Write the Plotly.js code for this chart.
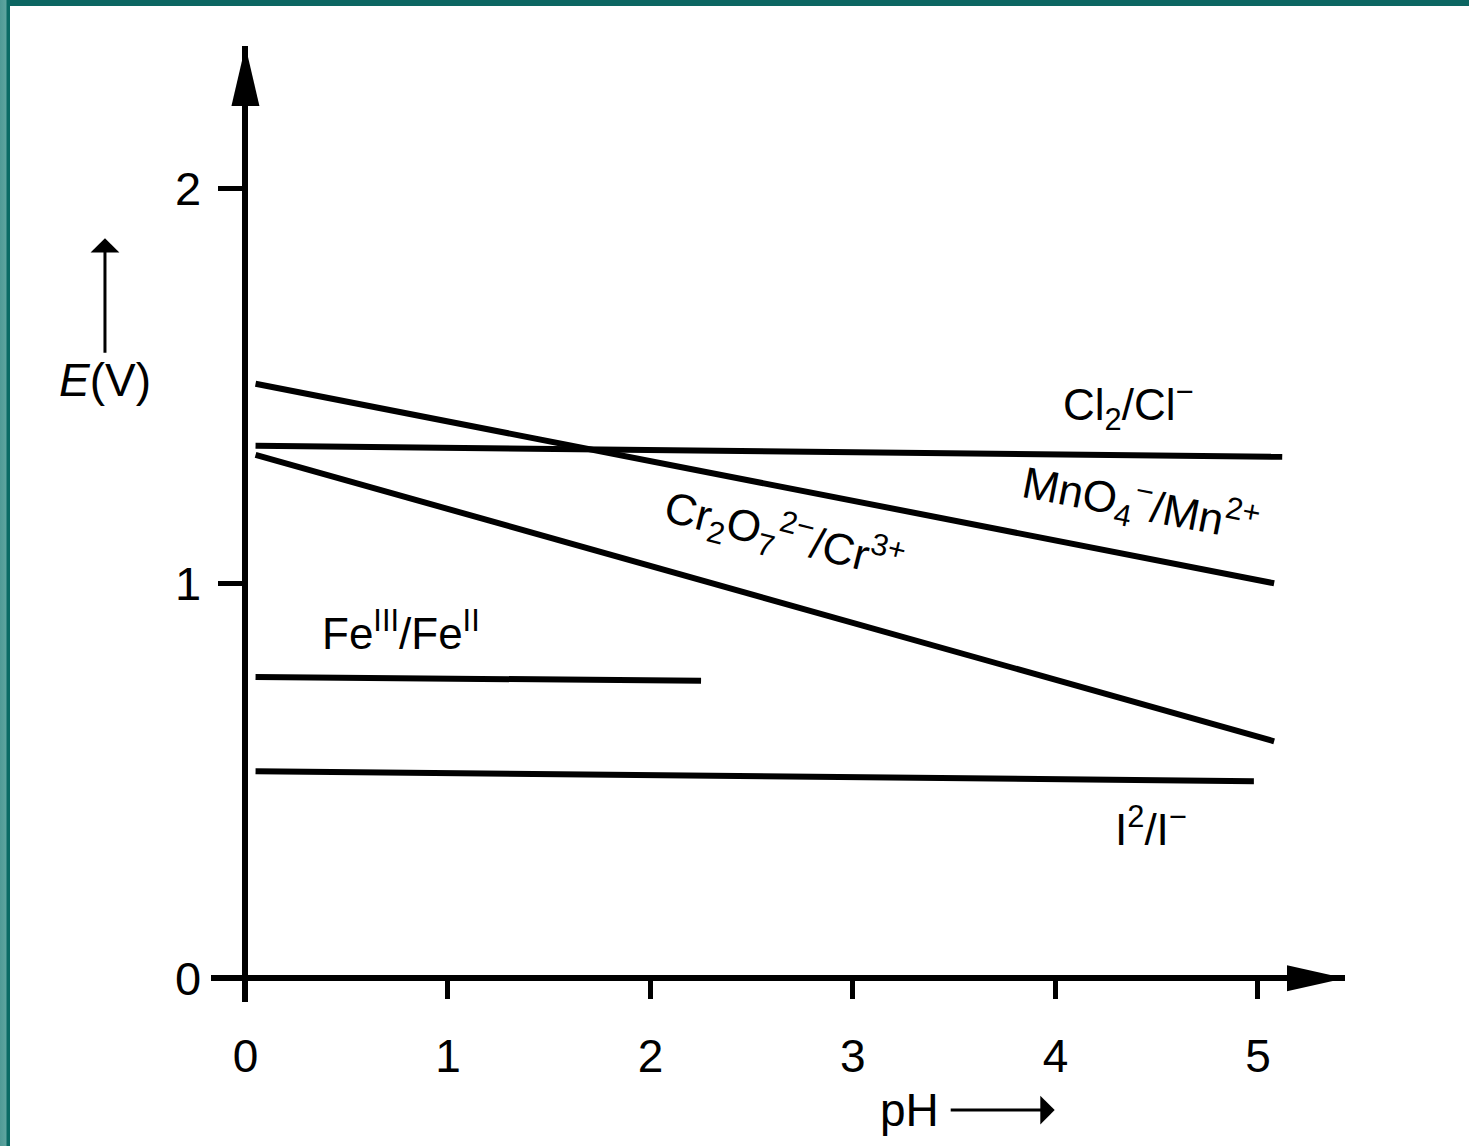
<!DOCTYPE html>
<html>
<head>
<meta charset="utf-8">
<script src="https://cdn.plot.ly/plotly-3.0.1.min.js"></script>
<style>
  html, body { margin: 0; padding: 0; background: #ffffff; }
  #wrap { position: relative; width: 1469px; height: 1146px; overflow: hidden; }
  #plot { position: absolute; left: 0; top: 0; width: 1469px; height: 1146px; }
  #bTop { position: absolute; left: 0; top: 0; width: 1469px; height: 6px; background: #0c6662; }
  #bLeft { position: absolute; left: 0; top: 0; width: 10px; height: 1146px;
           background: linear-gradient(to right, #4f9a96 0px, #5ea49f 6px, #0b6a65 7px, #0b6a65 10px); }
</style>
</head>
<body>
<div id="wrap">
  <div id="plot"></div>
  <div id="bTop"></div>
  <div id="bLeft"></div>
</div>
<script>
// ---- data (pH, E in volts) ----
const couples = ["Cl2/Cl-", "MnO4-/Mn2+", "Cr2O7 2-/Cr3+", "FeIII/FeII", "I2/I-"];
const pH_Cl = [0.05, 5.12];
const E_Cl  = [1.348, 1.32];
const pH_Mn = [0.05, 5.08];
const E_Mn  = [1.505, 1.00];
const pH_Cr = [0.05, 5.08];
const E_Cr  = [1.325, 0.60];
const pH_Fe = [0.05, 2.25];
const E_Fe  = [0.763, 0.753];
const pH_I  = [0.05, 4.98];
const E_I   = [0.524, 0.499];
const xTickVals = [0, 1, 2, 3, 4, 5];
const xTickText = ["0", "1", "2", "3", "4", "5"];
const yTickVals = [0, 1, 2];
const yTickText = ["0", "1", "2"];
const labelCl = "Cl<sub>2</sub>/Cl<sup>−</sup>";
const labelMn = "MnO<sub>4</sub><sup>−</sup>/Mn<sup>2+</sup>";
const labelCr = "Cr<sub>2</sub>O<sub>7</sub><sup>2−</sup>/Cr<sup>3+</sup>";
const labelFe = "Fe<sup>III</sup>/Fe<sup>II</sup>";
const labelI  = "I<sup>2</sup>/I<sup>−</sup>";
const xTitle = "pH";
const yTitle = "<i>E</i>(V)";

const FONT = "Liberation Sans, Arial, Helvetica, sans-serif";
const lineStyle = {color: "#000000", width: 6};

function series(x, y, name) {
  return {x: x, y: y, name: name, type: "scatter", mode: "lines",
          line: lineStyle, showlegend: false, hoverinfo: "skip", cliponaxis: false};
}

const data = [
  series(pH_Cl, E_Cl, couples[0]),
  series(pH_Mn, E_Mn, couples[1]),
  series(pH_Cr, E_Cr, couples[2]),
  series(pH_Fe, E_Fe, couples[3]),
  series(pH_I,  E_I,  couples[4])
];

const XMIN = -0.17, XMAX = 5.43, YMIN = -0.06, YMAX = 2.36;

function lab(text, x, y, angle) {
  return {text: text, x: x, y: y, xref: "x", yref: "y", showarrow: false,
          textangle: angle || 0, font: {family: FONT, size: 44, color: "#000"},
          xanchor: "center", yanchor: "middle"};
}

const layout = {
  width: 1469, height: 1146,
  margin: {l: 211, r: 124, t: 46, b: 144, pad: 0},
  paper_bgcolor: "#ffffff", plot_bgcolor: "#ffffff",
  showlegend: false, hovermode: false,
  xaxis: {
    range: [XMIN, XMAX], anchor: "free", position: (0 - YMIN) / (YMAX - YMIN),
    showline: true, linecolor: "#000", linewidth: 6,
    showgrid: false, zeroline: false,
    tickmode: "array", tickvals: xTickVals, ticktext: xTickText,
    ticks: "outside", ticklen: 18, tickwidth: 5, tickcolor: "#000",
    ticklabelstandoff: 18,
    tickfont: {family: FONT, size: 46, color: "#000"}
  },
  yaxis: {
    range: [YMIN, YMAX], anchor: "free", position: (0 - XMIN) / (XMAX - XMIN),
    showline: true, linecolor: "#000", linewidth: 6,
    showgrid: false, zeroline: false,
    tickmode: "array", tickvals: yTickVals, ticktext: yTickText,
    ticks: "outside", ticklen: 24, tickwidth: 5, tickcolor: "#000",
    ticklabelstandoff: 8,
    tickfont: {family: FONT, size: 47, color: "#000"}
  },
  shapes: [
    // y-axis arrowhead
    {type: "path", xref: "x", yref: "y", xsizemode: "pixel", ysizemode: "pixel",
     xanchor: 0, yanchor: YMAX, path: "M0,0 L-14,-60 L14,-60 Z",
     fillcolor: "#000", line: {width: 0}},
    // x-axis arrowhead
    {type: "path", xref: "x", yref: "y", xsizemode: "pixel", ysizemode: "pixel",
     xanchor: XMAX, yanchor: 0, path: "M0,0 L-58,13 L-58,-13 Z",
     fillcolor: "#000", line: {width: 0}}
  ],
  annotations: [
    lab(labelCl, 4.36, 1.45, 0),
    lab(labelMn, 4.42, 1.20, 11),
    lab(labelCr, 2.66, 1.12, 14),
    lab(labelFe, 0.77, 0.88, 0),
    lab(labelI, 4.47, 0.385, 0),
    {text: yTitle, x: -0.0935, y: 0.799, xref: "paper", yref: "paper",
     showarrow: true, ax: 0, ay: 142, axref: "pixel", ayref: "pixel",
     arrowhead: 1, arrowsize: 1.6, arrowwidth: 3, arrowcolor: "#000",
     font: {family: FONT, size: 46, color: "#000"}},
    {text: xTitle, x: 0.744, y: -0.113, xref: "paper", yref: "paper",
     showarrow: true, ax: -145, ay: 0, axref: "pixel", ayref: "pixel",
     startstandoff: 10,
     arrowhead: 1, arrowsize: 1.6, arrowwidth: 3, arrowcolor: "#000",
     font: {family: FONT, size: 46, color: "#000"}}
  ]
};

Plotly.newPlot("plot", data, layout, {staticPlot: true, displayModeBar: false});
</script>
</body>
</html>
